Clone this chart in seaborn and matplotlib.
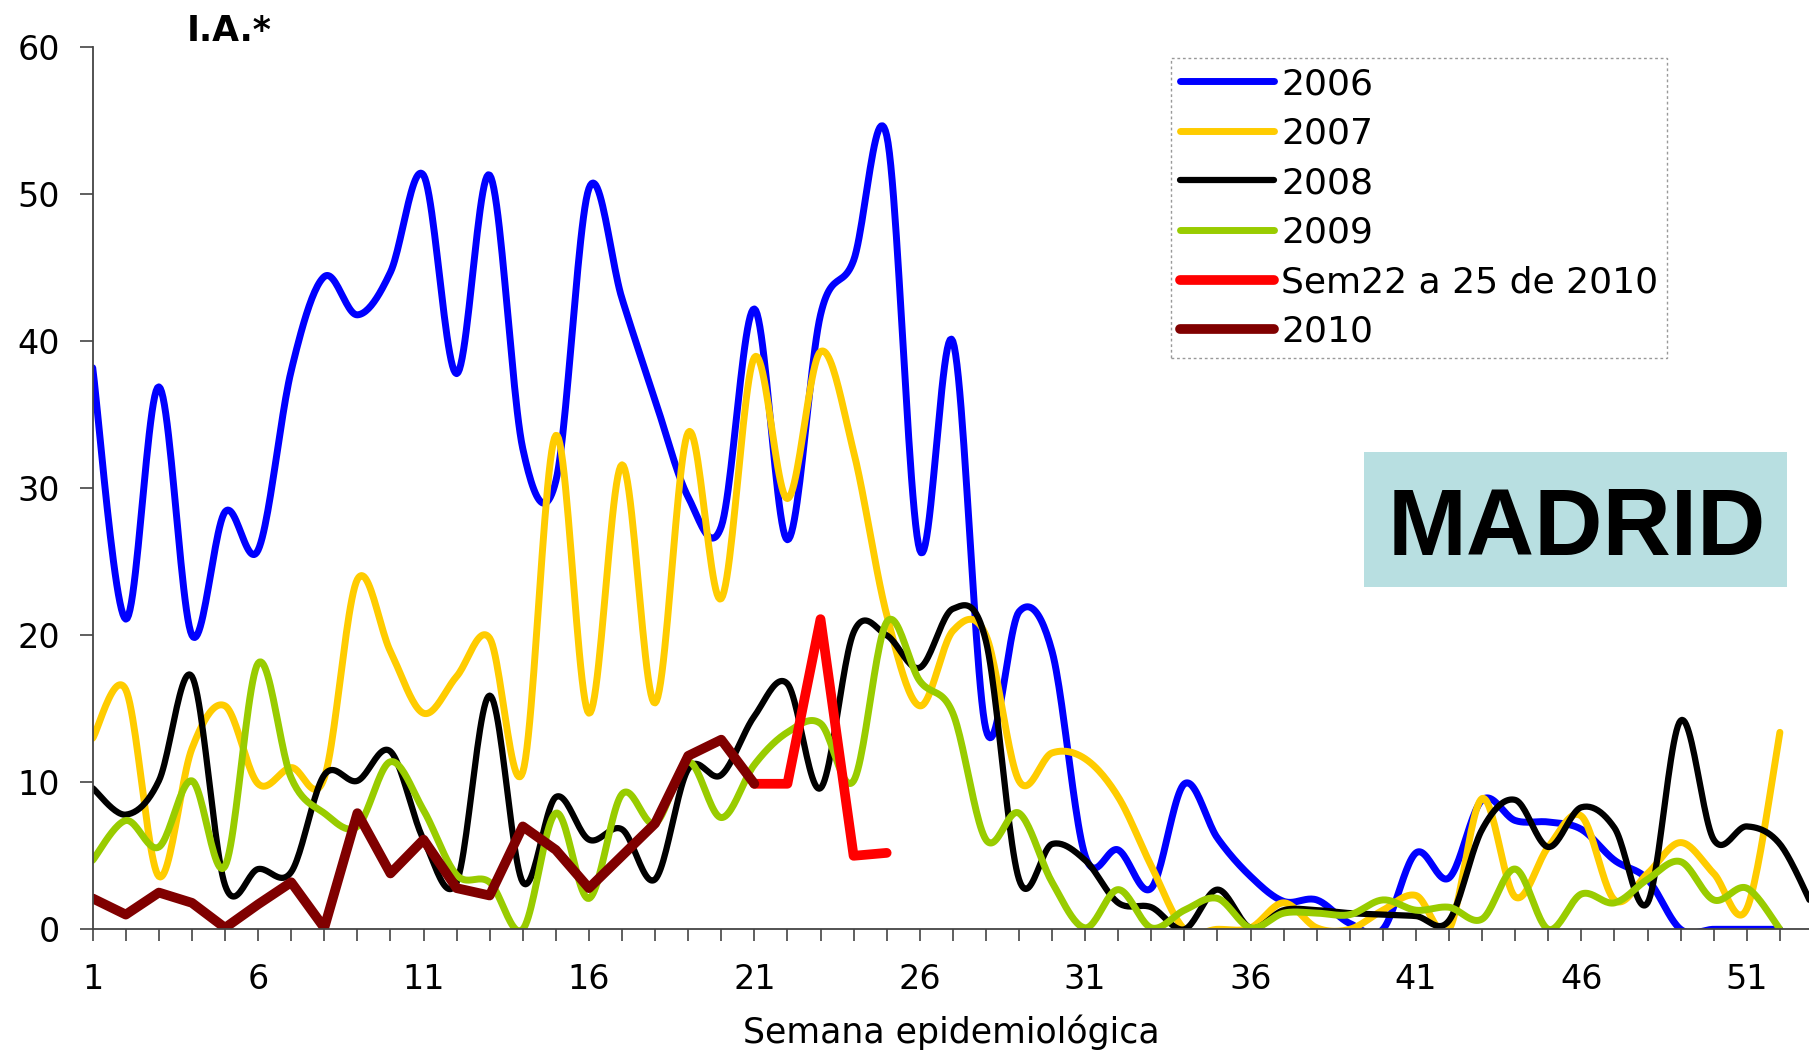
import numpy as np
import matplotlib
matplotlib.use("Agg")
import matplotlib.pyplot as plt
import matplotlib.patches as mpatches
import seaborn as sns

# semanas epidemiológicas
weeks = list(range(1, 53))

ia_2006 = [38.2, 21.1, 36.9, 20.0, 28.4, 25.8, 38.0, 44.4, 41.8, 44.7,
           51.3, 37.8, 51.3, 32.7, 30.5, 50.4, 42.9, 36.0, 29.4, 27.4,
           42.2, 26.5, 41.8, 45.5, 54.0, 25.8, 40.0, 13.6, 21.6, 18.9,
           5.0, 5.4, 2.8, 9.9, 6.2, 3.6, 1.9, 2.0, 0.4, 0.0,
           5.2, 3.5, 8.8, 7.4, 7.3, 6.8, 4.7, 3.4, 0.0, 0.0,
           0.0, 0.0]
ia_2007 = [13.0, 16.3, 3.6, 12.3, 15.2, 9.9, 11.0, 10.3, 23.8, 18.9,
           14.7, 17.2, 19.8, 10.7, 33.6, 14.7, 31.6, 15.4, 33.8, 22.5,
           38.9, 29.3, 39.3, 32.5, 21.4, 15.2, 20.3, 20.0, 10.1, 12.0,
           11.6, 9.0, 4.3, 0.0, 0.0, 0.1, 1.8, 0.1, 0.0, 1.3,
           2.3, 0.0, 8.9, 2.2, 5.6, 7.7, 2.0, 3.8, 5.9, 3.8,
           1.4, 13.4]
weeks_2008 = list(range(1, 54))
ia_2008 = [9.6, 7.8, 10.1, 17.2, 3.0, 4.1, 3.9, 10.5, 10.1, 12.1,
           6.1, 3.2, 15.9, 3.2, 9.0, 6.1, 6.8, 3.4, 10.9, 10.5,
           14.5, 16.7, 9.6, 20.2, 20.0, 17.8, 21.8, 19.6, 3.4, 5.8,
           4.7, 1.8, 1.5, 0.0, 2.7, 0.1, 1.3, 1.3, 1.1, 1.0,
           0.9, 0.6, 6.8, 8.8, 5.6, 8.3, 6.9, 1.8, 14.2, 6.1,
           7.0, 5.8, 1.5]
ia_2009 = [4.7, 7.4, 5.6, 10.1, 4.3, 18.1, 10.3, 7.9, 7.0, 11.4,
           8.1, 3.7, 3.2, 0.0, 7.9, 2.1, 9.2, 7.2, 11.4, 7.6,
           11.2, 13.4, 14.0, 10.1, 20.9, 16.9, 14.7, 6.1, 7.9, 3.2,
           0.1, 2.7, 0.1, 1.3, 2.1, 0.1, 1.1, 1.1, 1.0, 2.0,
           1.3, 1.5, 0.7, 4.1, 0.0, 2.4, 1.8, 3.4, 4.6, 2.0,
           2.8, 0.0]
weeks_2010 = list(range(1, 22))
ia_2010 = [2.1, 1.0, 2.5, 1.8, 0.1, 1.7, 3.2, 0.1, 7.9, 3.8,
           6.1, 2.8, 2.3, 7.0, 5.4, 2.8, 5.0, 7.2, 11.8, 12.9,
           9.9]
weeks_sem = [21, 22, 23, 24, 25]
ia_sem = [9.9, 9.9, 21.1, 5.0, 5.2]

xticklabels = [str(w) if (w - 1) % 5 == 0 else "" for w in weeks]


def excel_smooth(x, y, n=24):
    # curva suavizada tipo Excel (Bezier con tangentes de Catmull-Rom)
    x = np.asarray(x, float)
    y = np.asarray(y, float)
    px = np.concatenate([[x[0]], x, [x[-1]]])
    py = np.concatenate([[y[0]], y, [y[-1]]])
    t = np.linspace(0, 1, n, endpoint=False)
    xs, ys = [], []
    for i in range(len(x) - 1):
        p0 = np.array([px[i], py[i]])
        p1 = np.array([px[i + 1], py[i + 1]])
        p2 = np.array([px[i + 2], py[i + 2]])
        p3 = np.array([px[i + 3], py[i + 3]])
        c1 = p1 + (p2 - p0) / 6
        c2 = p2 - (p3 - p1) / 6
        for tt in t:
            b = ((1 - tt) ** 3 * p1 + 3 * (1 - tt) ** 2 * tt * c1
                 + 3 * (1 - tt) * tt ** 2 * c2 + tt ** 3 * p2)
            xs.append(b[0])
            ys.append(b[1])
    xs.append(x[-1])
    ys.append(y[-1])
    return np.array(xs), np.array(ys)


sns.set_style("ticks")
plt.rcParams['font.family'] = ['DejaVu Sans']
plt.rcParams['text.color'] = 'black'
plt.rcParams['axes.labelcolor'] = 'black'
plt.rcParams['xtick.color'] = 'black'
plt.rcParams['ytick.color'] = 'black'

fig = plt.figure(figsize=(18.09, 10.52), dpi=100)
ax = fig.add_axes([0.05125, 0.11663, 0.94875, 0.8384])

series = [
    ("2006", weeks, ia_2006, "#0000FF", 5.0, True),
    ("2007", weeks, ia_2007, "#FFCC00", 5.0, True),
    ("2008", weeks_2008, ia_2008, "#000000", 4.5, True),
    ("2009", weeks, ia_2009, "#99CC00", 5.0, True),
    ("Sem22 a 25 de 2010", weeks_sem, ia_sem, "#FF0000", 7.0, False),
    ("2010", weeks_2010, ia_2010, "#800000", 7.0, False),
]
for label, xx, yy, col, lw, smooth in series:
    if smooth:
        sx, sy = excel_smooth(xx, yy)
    else:
        sx, sy = np.asarray(xx, float), np.asarray(yy, float)
    sns.lineplot(x=sx, y=sy, ax=ax, color=col, linewidth=lw, label=label,
                 sort=False, estimator=None)

ax.set_xlim(1, 52.88)
ax.set_ylim(0, 60)
ax.set_xticks(weeks)
ax.set_xticklabels(xticklabels)
ax.set_yticks(range(0, 61, 10))
ax.tick_params(axis="x", length=8.6, width=1.2, color="#444444",
               labelcolor="black", pad=16, labelsize=24)
ax.tick_params(axis="y", length=9.4, width=1.2, color="#444444",
               labelcolor="black", pad=14, labelsize=24)
for side in ["top", "right"]:
    ax.spines[side].set_visible(False)
for side in ["left", "bottom"]:
    ax.spines[side].set_color("#444444")
    ax.spines[side].set_linewidth(1.3)

ax.set_xlabel("Semana epidemiológica", fontsize=25, color="black")
ax.xaxis.label.set_va("baseline")
ax.xaxis.set_label_coords(0.5, -(1043 - 929.3) / 882)
ax.set_ylabel("")

fig.text(187 / 1809, 1 - 40.7 / 1052, "I.A.*", fontsize=25, color="black",
         fontweight="bold", ha="left", va="baseline")

leg = ax.legend(loc="upper left", bbox_to_anchor=(1171 / 1809, 1 - 58 / 1052),
                bbox_transform=fig.transFigure, fontsize=26, frameon=True,
                fancybox=False, borderaxespad=0, borderpad=0.25,
                labelspacing=0.43, handlelength=2.6, handletextpad=0.2)
for txt in leg.get_texts():
    txt.set_color("black")
frame = leg.get_frame()
frame.set_edgecolor("#999999")
frame.set_linestyle((0, (2, 2)))
frame.set_linewidth(1.0)
frame.set_alpha(1)

fig.patches.append(mpatches.Rectangle((1364 / 1809, 1 - 587 / 1052),
                                      423 / 1809, 135 / 1052,
                                      transform=fig.transFigure,
                                      facecolor="#B8DFE1", edgecolor="none",
                                      zorder=3))
fig.text(1577 / 1809, 1 - 555.4 / 1052, "MADRID", fontsize=68, color="black",
         fontweight="bold", family=["Liberation Sans", "DejaVu Sans"],
         ha="center", va="baseline", zorder=4)

fig.savefig("out.png", dpi=100)
